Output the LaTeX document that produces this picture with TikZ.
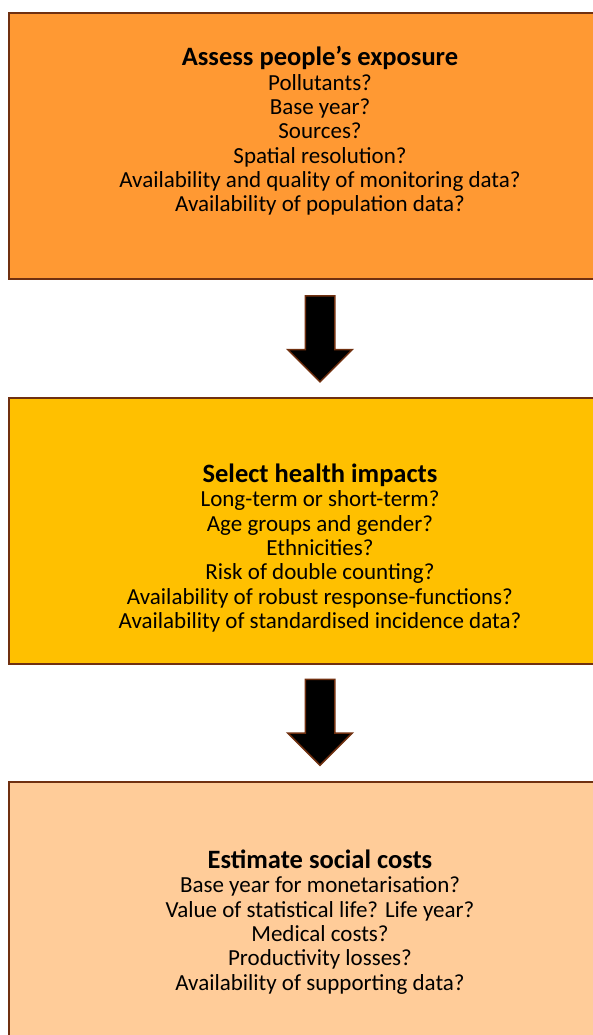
\documentclass[tikz,border=0pt]{standalone}
\usepackage{fontspec}
\setmainfont{Carlito}
\usetikzlibrary{shapes.arrows,positioning}
\definecolor{rim}{RGB}{112,48,16}
\definecolor{exposurefill}{RGB}{255,153,51}
\definecolor{impactfill}{RGB}{255,192,0}
\definecolor{costfill}{RGB}{255,204,153}
\newcommand{\stagehead}[1]{{\fontsize{26.5}{24.3}\selectfont\textbf{#1}}}
\tikzset{
  stage/.style={draw=rim, line width=2pt, rectangle, minimum width=622pt, minimum height=266pt, inner sep=0pt},
  stagetext/.style={align=center, font=\fontsize{23}{24.3}\selectfont},
  downarrow/.style={single arrow, draw=rim, line width=1.5pt, fill=black, rotate=-90,
    minimum height=86pt, inner xsep=0pt, inner ysep=14pt, single arrow head extend=17.5pt,
    text height=0pt, text depth=0pt}
}

\begin{document}
\begin{tikzpicture}[x=1pt,y=-1pt]
  \useasboundingbox (0,0) rectangle (593,1035);
  \node[stage, fill=exposurefill] (exposure) at (320,146) {};
  \node[stage, fill=impactfill] (impacts) at (320,531) {};
  \node[stage, fill=costfill] (costs) at (320,915) {};
  \node[stagetext] (exposure_q) at (320,131) {\stagehead{Assess people’s exposure}\\ Pollutants?\\ Base year?\\ Sources?\\ Spatial resolution?\\ Availability and quality of monitoring data?\\ Availability of population data?};
  \node[stagetext] (impacts_q) at (320,548) {\stagehead{Select health impacts}\\ Long-term or short-term?\\ Age groups and gender?\\ Ethnicities?\\ Risk of double counting?\\ Availability of robust response-functions?\\ Availability of standardised incidence data?};
  \node[stagetext] (costs_q) at (320,922) {\stagehead{Estimate social costs}\\ Base year for monetarisation?\\ Value of statistical life? Life year?\\ Medical costs?\\ Productivity losses?\\ Availability of supporting data?};
  \path (exposure.south) -- (impacts.north) node[downarrow, pos=0.44] (arrow_1) {};
  \path (impacts.south) -- (costs.north) node[downarrow, pos=0.43] (arrow_2) {};
\end{tikzpicture}
\end{document}
